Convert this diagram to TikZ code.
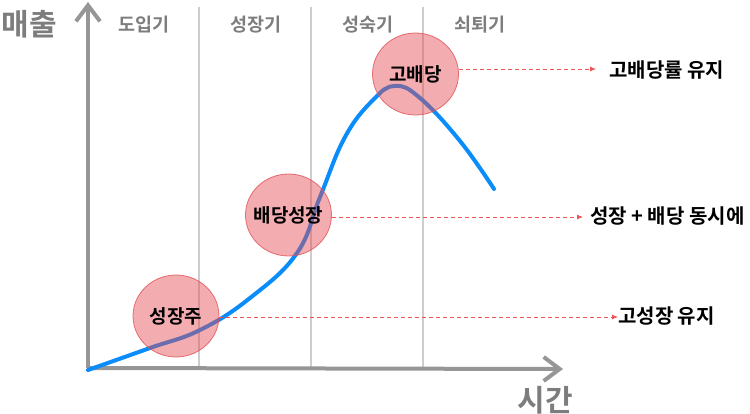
\documentclass[tikz,border=0pt]{standalone}
\usepackage{fontspec}
\setmainfont{Noto Sans CJK KR}[BoldFont={Noto Sans CJK KR Bold}]
\usetikzlibrary{arrows.meta,shapes.geometric}
\definecolor{axisgray}{RGB}{150,150,150}
\definecolor{sepgray}{RGB}{205,205,205}
\definecolor{phasegray}{RGB}{125,125,125}
\definecolor{curveblue}{RGB}{10,140,250}
\definecolor{circfill}{RGB}{228,72,78}
\definecolor{circline}{RGB}{225,80,85}
\definecolor{dashred}{RGB}{240,85,85}
\tikzset{
  axis/.style={draw=axisgray, line width=4pt, -{Straight Barb[length=16pt,width=24pt,line width=4pt]}},
  sepline/.style={draw=sepgray, line width=1.3pt},
  phase/.style={text=phasegray, font=\fontsize{18.5}{18.5}\selectfont\bfseries, inner sep=0pt},
  axlabel/.style={text=phasegray, font=\fontsize{30}{30}\selectfont\bfseries, inner sep=0pt},
  bubble/.style={ellipse, fill=circfill, fill opacity=0.45, draw=circline, draw opacity=0.8, line width=0.8pt, minimum width=86pt, minimum height=82pt, inner sep=0pt},
  bubtext/.style={font=\fontsize{19}{19}\selectfont\bfseries, inner sep=0pt},
  note/.style={font=\fontsize{20}{20}\selectfont\bfseries, inner sep=0pt, anchor=west},
  lead/.style={draw=dashred, line width=0.8pt, dash pattern=on 4pt off 3pt, -{Latex[length=6pt,width=5pt]}},
}
\begin{document}
\begin{tikzpicture}[x=1pt,y=-1pt]
\useasboundingbox (0,0) rectangle (750,414);
% separators
\foreach \xx in {199,311,423} \draw[sepline] (\xx,7) -- (\xx,368);
% axes
\coordinate (O) at (88,368);
\coordinate (Ytop) at (88,2);
\coordinate (Xend) at (563,369);
\draw[axis] (O) -- (Ytop);
\draw[axis] (O) -- (Xend);
% phase labels
\node[phase] (p1) at (144,25) {도입기};
\node[phase] (p2) at (256,25) {성장기};
\node[phase] (p3) at (368,25) {성숙기};
\node[phase] (p4) at (480,25) {쇠퇴기};
\node[axlabel] (ylab) at (29,24) {매출};
\node[axlabel] (xlab) at (545,400) {시간};
% curve
\draw[curveblue, line width=4pt, line cap=round] plot[smooth, tension=0.7] coordinates {
 (88,370) (150,348) (200,330) (250,298) (297,253) (320,197) (345,137) (373,100) (395,86) (420,98) (460,141) (494,189)};
% bubbles
\node[bubble] (c1) at (176,316) {};
\node[bubble] (c2) at (288.5,215) {};
\node[bubble] (c3) at (415.5,74) {};
\node[bubtext] (t1) at (c1) {성장주};
\node[bubtext] (t2) at (c2) {배당성장};
\node[bubtext] (t3) at (c3) {고배당};
% notes
\node[note] (n3) at (609,70) {고배당률 유지};
\node[note] (n2) at (590,216) {성장 + 배당 동시에};
\node[note] (n1) at (618,316) {고성장 유지};
\coordinate (e1) at (219,317);
\draw[lead] (e1) -- (n1.west |- e1);
\draw[lead] (c2.east |- 0,217) -- (583,217);
\draw[lead] (c3.east |- 0,69) -- (596,69);
\end{tikzpicture}
\end{document}
